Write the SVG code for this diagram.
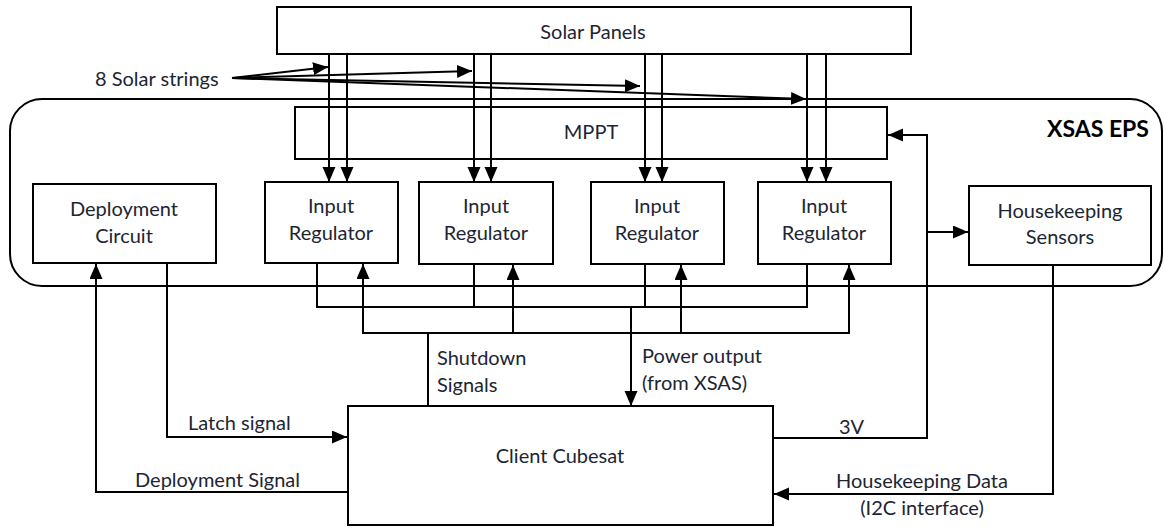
<svg xmlns="http://www.w3.org/2000/svg" width="1164" height="527" viewBox="0 0 1164 527">
<defs>
<marker id="ah" markerUnits="userSpaceOnUse" markerWidth="16" markerHeight="14" refX="15" refY="6.5" orient="auto">
<path d="M0,0 L15,6.5 L0,13 z" fill="#000"/>
</marker>
</defs>
<style>
.b{fill:#fff;stroke:#000;stroke-width:2}
.t{font-family:Lato,"Open Sans","Liberation Sans",sans-serif;font-size:20px;fill:#1c2533;text-anchor:middle}
.l{font-family:Lato,"Open Sans","Liberation Sans",sans-serif;font-size:20px;fill:#1c2533}
.c{fill:none;stroke:#000;stroke-width:2}
.a{fill:none;stroke:#000;stroke-width:2;marker-end:url(#ah)}
</style>
<rect width="1164" height="527" fill="#fff"/>
<g id="xsas">
<rect x="10" y="99" width="1152" height="187" rx="32" ry="32" fill="none" stroke="#000" stroke-width="2"/>
<text x="1098" y="137" font-family="Lato,'Open Sans','Liberation Sans',sans-serif" font-size="23" font-weight="bold" fill="#000" text-anchor="middle">XSAS EPS</text>
</g>
<g id="solar-panels">
<rect class="b" x="277" y="7" width="634" height="47"/>
<text class="t" x="593" y="39">Solar Panels</text>
</g>
<g id="mppt">
<rect class="b" x="295" y="107" width="592" height="52"/>
<text class="t" x="591" y="139">MPPT</text>
</g>
<g id="deployment-circuit">
<rect class="b" x="33" y="184" width="183" height="79"/>
<text class="t" x="124" y="216">Deployment</text>
<text class="t" x="124" y="243">Circuit</text>
</g>
<g id="ir1">
<rect class="b" x="265" y="182" width="133" height="81"/>
<text class="t" x="331" y="213">Input</text>
<text class="t" x="331" y="240">Regulator</text>
</g>
<g id="ir2">
<rect class="b" x="419" y="182" width="134" height="82"/>
<text class="t" x="486" y="213">Input</text>
<text class="t" x="486" y="240">Regulator</text>
</g>
<g id="ir3">
<rect class="b" x="591" y="182" width="133" height="82"/>
<text class="t" x="657" y="213">Input</text>
<text class="t" x="657" y="240">Regulator</text>
</g>
<g id="ir4">
<rect class="b" x="758" y="182" width="133" height="82"/>
<text class="t" x="824" y="213">Input</text>
<text class="t" x="824" y="240">Regulator</text>
</g>
<g id="housekeeping-sensors">
<rect class="b" x="969" y="186" width="182" height="79"/>
<text class="t" x="1060" y="218">Housekeeping</text>
<text class="t" x="1060" y="244">Sensors</text>
</g>
<g id="client-cubesat">
<rect class="b" x="348" y="406" width="425" height="119"/>
<text class="t" x="560" y="463">Client Cubesat</text>
</g>
<g id="connectors">
<text class="l" x="95" y="86">8 Solar strings</text>
<line class="a" x1="232" y1="78" x2="328" y2="67"/>
<line class="a" x1="232" y1="78" x2="472" y2="71"/>
<line class="a" x1="232" y1="78" x2="640" y2="86"/>
<line class="a" x1="232" y1="78" x2="806" y2="99"/>
<line class="a" x1="329" y1="54" x2="329" y2="182"/>
<line class="a" x1="347" y1="54" x2="347" y2="182"/>
<line class="a" x1="474" y1="54" x2="474" y2="182"/>
<line class="a" x1="491" y1="54" x2="491" y2="182"/>
<line class="a" x1="645" y1="54" x2="645" y2="182"/>
<line class="a" x1="662" y1="54" x2="662" y2="182"/>
<line class="a" x1="807" y1="54" x2="807" y2="182"/>
<line class="a" x1="826" y1="54" x2="826" y2="182"/>
<polyline class="c" points="317,263 317,307 807,307 807,264"/>
<line class="c" x1="474" y1="264" x2="474" y2="307"/>
<line class="c" x1="645" y1="264" x2="645" y2="307"/>
<line class="a" x1="631" y1="307" x2="631" y2="406"/>
<line class="c" x1="362" y1="333" x2="850" y2="333"/>
<line class="a" x1="363" y1="333" x2="363" y2="264"/>
<line class="a" x1="513" y1="333" x2="513" y2="265"/>
<line class="a" x1="681" y1="333" x2="681" y2="265"/>
<line class="a" x1="849" y1="333" x2="849" y2="265"/>
<line class="c" x1="428" y1="333" x2="428" y2="406"/>
<text class="l" x="437" y="365">Shutdown</text>
<text class="l" x="437" y="392">Signals</text>
<text class="l" x="642" y="363">Power output</text>
<text class="l" x="642" y="390">(from XSAS)</text>
<polyline class="a" points="348,492 96,492 96,264"/>
<polyline class="a" points="167,263 167,437 347,437"/>
<text class="l" x="188" y="430">Latch signal</text>
<text class="l" x="135" y="487">Deployment Signal</text>
<polyline class="a" points="773,438 927,438 927,135 888,135"/>
<line class="a" x1="927" y1="232" x2="968" y2="232"/>
<text class="l" x="839" y="434">3V</text>
<polyline class="a" points="1053,265 1053,494 774,494"/>
<text class="t" x="922" y="488">Housekeeping Data</text>
<text class="t" x="922" y="515">(I2C interface)</text>
</g>
</svg>
